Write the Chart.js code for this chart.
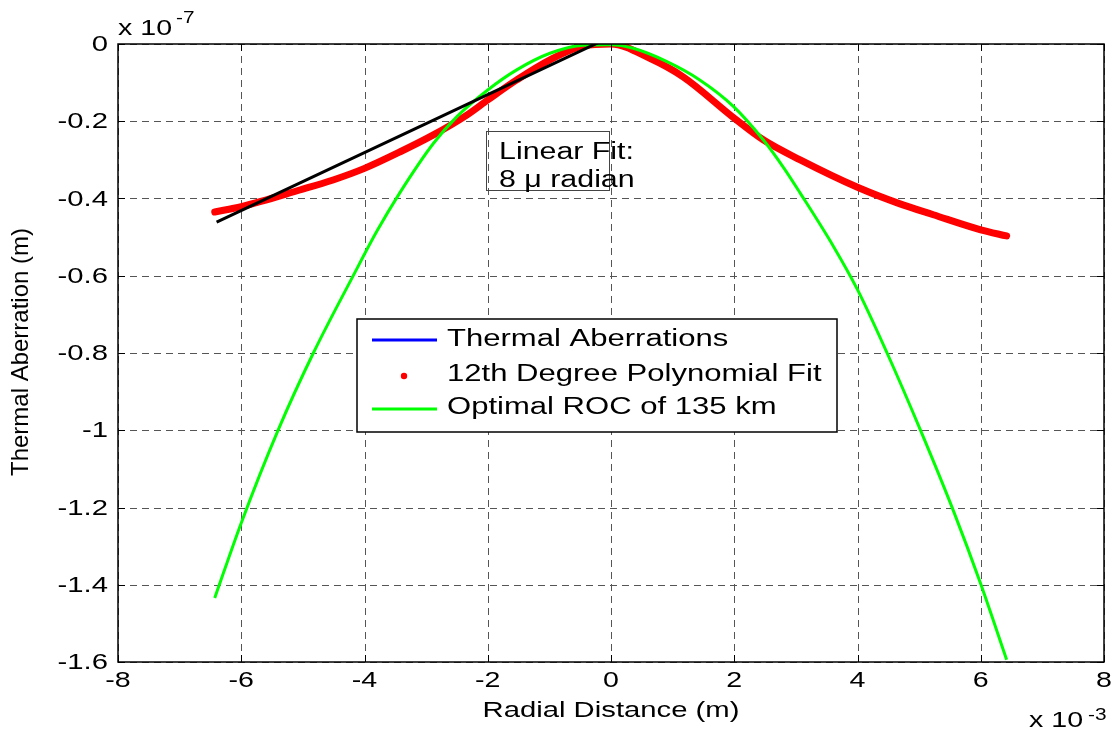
<!DOCTYPE html>
<html>
<head>
<meta charset="utf-8">
<title>Thermal Aberration</title>
<script src="https://cdn.jsdelivr.net/npm/chart.js@4.4.1/dist/chart.umd.min.js"></script>
<style>
    body { margin: 0; background: #ffffff; }
    #chart { display: block; }
</style>
</head>
<body>
<canvas id="chart" width="1117" height="732"></canvas>
<script>
// x values in units of 1e-3 m, y values in units of 1e-7 m
const xTicks = [-8, -6, -4, -2, 0, 2, 4, 6, 8];
const yTicks = [0, -0.2, -0.4, -0.6, -0.8, -1, -1.2, -1.4, -1.6];
const yTickLabels = ['0', '-0.2', '-0.4', '-0.6', '-0.8', '-1', '-1.2', '-1.4', '-1.6'];

// 12th degree polynomial fit (red)
const fitX = [-6.43, -6, -5.05, -4.51, -4, -3.42, -2.89, -2.34, -2, -1.53, -0.99, -0.45, 0, 0.63, 1.17, 2, 2.47, 3.07, 4, 4.69, 5.23, 6, 6.42];
const fitY = [-0.435, -0.421, -0.378, -0.352, -0.322, -0.279, -0.236, -0.184, -0.145, -0.093, -0.041, -0.005, 0, -0.037, -0.085, -0.192, -0.248, -0.300, -0.371, -0.414, -0.442, -0.481, -0.497];

// thermal aberrations (blue), hidden under the fit
const thermalX = fitX;
const thermalY = fitY;

// optimal ROC of 135 km (green)
const rocX = [-6.43, -6, -5.4, -4.83, -4.18, -3.8, -3.43, -2.88, -2.5, -2, -1.53, -0.99, -0.45, 0, 0.36, 0.9, 1.44, 1.99, 2.47, 2.8, 3.07, 3.61, 4, 4.48, 5.02, 5.56, 6, 6.42];
const rocY = [-1.434, -1.24, -0.999, -0.800, -0.599, -0.485, -0.386, -0.257, -0.188, -0.119, -0.067, -0.024, -0.003, -0.002, -0.011, -0.045, -0.093, -0.162, -0.248, -0.32, -0.386, -0.524, -0.636, -0.800, -0.999, -1.21, -1.398, -1.594];

// linear fit (black)
const linX = [-6.4, -0.12];
const linY = [-0.461, 0.01];

const legendLabels = ['Thermal Aberrations', '12th Degree Polynomial Fit', 'Optimal ROC of 135 km'];

function toPoints(xs, ys) {
    return xs.map((x, i) => ({ x: x, y: ys[i] }));
}

const FONT = '"Liberation Sans", Arial, sans-serif';

// text helper, the reference text is stretched sideways
function txt(ctx, s, x, y, size, align, baseline, sx) {
    ctx.save();
    ctx.font = size + 'px ' + FONT;
    ctx.fillStyle = '#000000';
    ctx.translate(x, y);
    ctx.scale(sx, 1);
    ctx.textAlign = align;
    ctx.textBaseline = baseline;
    ctx.fillText(s, 0, 0);
    ctx.restore();
}

// dashed grid under the lines, box / labels / legend on top
const gridPlugin = {
    id: 'matlabGrid',
    beforeDatasetsDraw(chart) {
        const ctx = chart.ctx;
        const a = chart.chartArea;
        const xs = chart.scales.x, ys = chart.scales.y;
        ctx.save();
        ctx.strokeStyle = '#555555';
        ctx.lineWidth = 1;
        ctx.setLineDash([7, 5]);
        xTicks.forEach((t) => {
            const px = Math.round(xs.getPixelForValue(t)) + 0.5;
            ctx.beginPath();
            ctx.moveTo(px, a.top);
            ctx.lineTo(px, a.bottom);
            ctx.stroke();
        });
        yTicks.forEach((t) => {
            const py = Math.round(ys.getPixelForValue(t)) + 0.5;
            ctx.beginPath();
            ctx.moveTo(a.left, py);
            ctx.lineTo(a.right, py);
            ctx.stroke();
        });
        ctx.restore();
    },
    afterDatasetsDraw(chart) {
        const ctx = chart.ctx;
        const a = chart.chartArea;
        const xs = chart.scales.x, ys = chart.scales.y;

        // axes box and inward ticks
        ctx.save();
        ctx.strokeStyle = '#000000';
        ctx.lineWidth = 1.5;
        ctx.strokeRect(a.left, a.top, a.right - a.left, a.bottom - a.top);
        ctx.lineWidth = 1;
        ctx.beginPath();
        xTicks.forEach((t) => {
            const px = Math.round(xs.getPixelForValue(t)) + 0.5;
            ctx.moveTo(px, a.bottom); ctx.lineTo(px, a.bottom - 7);
            ctx.moveTo(px, a.top); ctx.lineTo(px, a.top + 7);
        });
        yTicks.forEach((t) => {
            const py = Math.round(ys.getPixelForValue(t)) + 0.5;
            ctx.moveTo(a.left, py); ctx.lineTo(a.left + 7, py);
            ctx.moveTo(a.right, py); ctx.lineTo(a.right - 7, py);
        });
        ctx.stroke();
        ctx.restore();

        // tick labels
        xTicks.forEach((t) => {
            txt(ctx, String(t), xs.getPixelForValue(t), a.bottom + 19, 22, 'center', 'middle', 1.3);
        });
        yTicks.forEach((t, i) => {
            txt(ctx, yTickLabels[i], a.left - 10, ys.getPixelForValue(t) + 1, 22, 'right', 'middle', 1.33);
        });

        // exponent labels
        txt(ctx, 'x 10', a.left, 35, 22, 'left', 'alphabetic', 1.3);
        txt(ctx, '-7', a.left + 58, 23, 16, 'left', 'alphabetic', 1.3);
        txt(ctx, 'x 10', 1029, 727, 22, 'left', 'alphabetic', 1.3);
        txt(ctx, '-3', 1088, 720, 16, 'left', 'alphabetic', 1.3);

        // axis titles
        txt(ctx, 'Radial Distance (m)', (a.left + a.right) / 2, 711, 22, 'center', 'middle', 1.33);
        ctx.save();
        ctx.translate(21, 352);
        ctx.rotate(-Math.PI / 2);
        txt(ctx, 'Thermal Aberration (m)', 0, 0, 24, 'center', 'middle', 1);
        ctx.restore();

        // linear fit note
        ctx.save();
        ctx.strokeStyle = '#444444';
        ctx.lineWidth = 1;
        ctx.strokeRect(486.5, 131.5, 123, 59);
        ctx.restore();
        txt(ctx, 'Linear Fit:', 499, 159, 23, 'left', 'alphabetic', 1.32);
        txt(ctx, '8 \u03bc radian', 499, 187, 23, 'left', 'alphabetic', 1.32);

        // legend
        ctx.save();
        ctx.fillStyle = '#ffffff';
        ctx.fillRect(357, 319, 480, 113);
        ctx.strokeStyle = '#000000';
        ctx.lineWidth = 1.5;
        ctx.strokeRect(357, 319, 480, 113);
        ctx.lineWidth = 3;
        ctx.strokeStyle = '#0000ff';
        ctx.beginPath(); ctx.moveTo(372, 340); ctx.lineTo(437, 340); ctx.stroke();
        ctx.strokeStyle = '#00ff00';
        ctx.beginPath(); ctx.moveTo(372, 409); ctx.lineTo(437, 409); ctx.stroke();
        ctx.fillStyle = '#ff0000';
        ctx.beginPath(); ctx.arc(404, 376, 3.2, 0, Math.PI * 2); ctx.fill();
        ctx.restore();
        const rows = [340, 375, 408];
        legendLabels.forEach((l, i) => {
            txt(ctx, l, 447, rows[i], 23, 'left', 'middle', 1.35);
        });
    }
};

const ctx = document.getElementById('chart').getContext('2d');
const myChart = new Chart(ctx, {
    type: 'scatter',
    data: {
        datasets: [{
            label: legendLabels[0],
            data: toPoints(thermalX, thermalY),
            showLine: true,
            borderColor: '#0000ff',
            borderWidth: 2,
            pointRadius: 0,
            cubicInterpolationMode: 'monotone',
            order: 4
        }, {
            label: legendLabels[1],
            data: toPoints(fitX, fitY),
            showLine: true,
            borderColor: '#ff0000',
            borderWidth: 7,
            borderCapStyle: 'round',
            pointRadius: 0,
            cubicInterpolationMode: 'monotone',
            order: 3
        }, {
            label: legendLabels[2],
            data: toPoints(rocX, rocY),
            showLine: true,
            borderColor: '#00ff00',
            borderWidth: 3,
            pointRadius: 0,
            cubicInterpolationMode: 'monotone',
            order: 2
        }, {
            label: 'Linear Fit',
            data: toPoints(linX, linY),
            showLine: true,
            borderColor: '#000000',
            borderWidth: 3,
            pointRadius: 0,
            order: 1
        }]
    },
    options: {
        responsive: false,
        animation: false,
        layout: { padding: { left: 118, right: 13, top: 44, bottom: 70 } },
        plugins: {
            legend: { display: false },
            tooltip: { enabled: false }
        },
        scales: {
            x: {
                type: 'linear', min: -8, max: 8,
                ticks: { display: false, stepSize: 2 },
                grid: { display: false },
                border: { display: false },
                afterFit: (s) => { s.height = 0; }
            },
            y: {
                type: 'linear', min: -1.6, max: 0,
                ticks: { display: false, stepSize: 0.2 },
                grid: { display: false },
                border: { display: false },
                afterFit: (s) => { s.width = 0; }
            }
        }
    },
    plugins: [gridPlugin]
});
</script>
</body>
</html>
